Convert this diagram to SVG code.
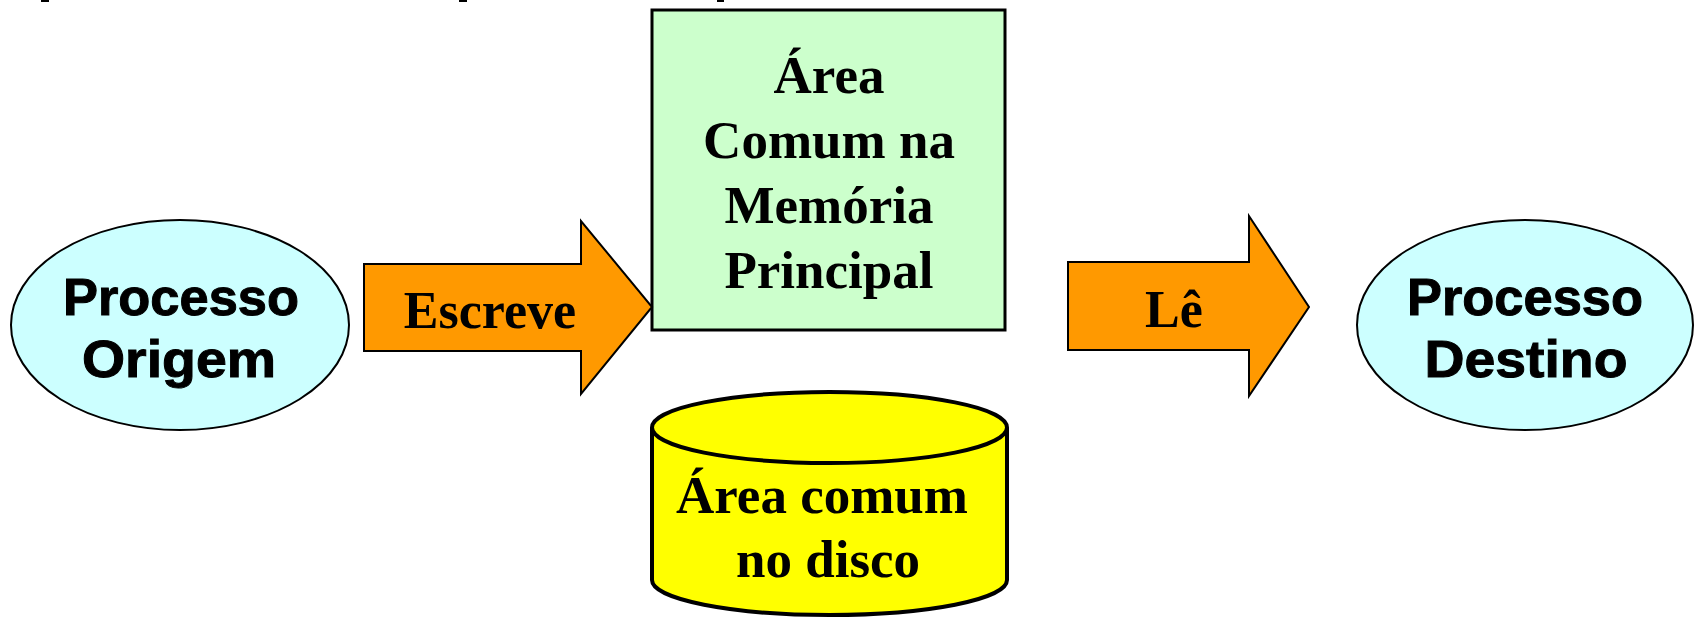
<svg xmlns="http://www.w3.org/2000/svg" width="1698" height="617" viewBox="0 0 1698 617">
<style>
.serif{font-family:"Liberation Serif","Times New Roman",serif;font-weight:bold;font-size:53px;fill:#000;text-anchor:middle}
.sans{font-family:"Liberation Sans",Arial,sans-serif;font-weight:bold;font-size:52px;fill:#000;stroke:#000;stroke-width:1;text-anchor:middle}
.proc{fill:#CCFFFF;stroke:#000;stroke-width:2}
.arrow{fill:#FF9900;stroke:#000;stroke-width:2;stroke-linejoin:miter}
</style>
<rect width="1698" height="617" fill="#fff"/>
<g id="top-fragments" fill="#000">
<rect x="41" y="0" width="8" height="2"/>
<rect x="459" y="0" width="8" height="2"/>
<rect x="717" y="0" width="7" height="2"/>
</g>
<g id="processo-origem">
<ellipse class="proc" cx="180" cy="325" rx="169" ry="105"/>
<text class="sans" x="181" y="315" textLength="236" lengthAdjust="spacingAndGlyphs">Processo</text>
<text class="sans" x="179" y="377" textLength="194" lengthAdjust="spacingAndGlyphs">Origem</text>
</g>
<g id="memoria">
<rect x="652" y="10" width="353" height="320" fill="#CCFFCC" stroke="#000" stroke-width="3"/>
<text class="serif" x="829" y="93">Área</text>
<text class="serif" x="829" y="158">Comum na</text>
<text class="serif" x="829" y="223">Memória</text>
<text class="serif" x="829" y="288">Principal</text>
</g>
<g id="disco">
<path d="M652,427.5 L652,580 A177.5,35 0 0 0 1007,580 L1007,427.5" fill="#FFFF00" stroke="#000" stroke-width="4"/>
<ellipse cx="829.5" cy="427.5" rx="177.5" ry="35.5" fill="#FFFF00" stroke="#000" stroke-width="4"/>
<text class="serif" x="822" y="513">Área comum</text>
<text class="serif" x="828" y="577">no disco</text>
</g>
<g id="processo-destino">
<ellipse class="proc" cx="1525" cy="325" rx="168" ry="105"/>
<text class="sans" x="1525" y="315" textLength="236" lengthAdjust="spacingAndGlyphs">Processo</text>
<text class="sans" x="1526" y="377" textLength="203" lengthAdjust="spacingAndGlyphs">Destino</text>
</g>
<g id="connectors">
<g id="escreve">
<polygon class="arrow" points="364,264 581,264 581,221 652,307 581,394 581,351 364,351"/>
<text class="serif" x="490" y="328" style="font-size:52px">Escreve</text>
</g>
<g id="le">
<polygon class="arrow" points="1068,262 1249,262 1249,216 1309,307 1249,396 1249,350 1068,350"/>
<text class="serif" x="1174" y="327" style="font-size:52px">Lê</text>
</g>
</g>
</svg>
